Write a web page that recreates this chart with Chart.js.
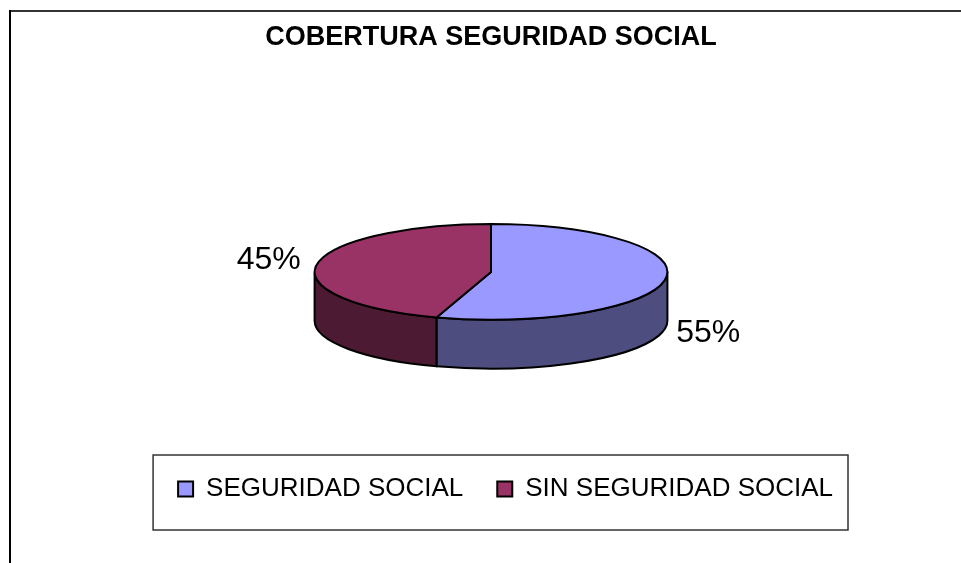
<!DOCTYPE html>
<html>
<head>
<meta charset="utf-8">
<title>Cobertura Seguridad Social</title>
<script src="https://cdn.jsdelivr.net/npm/chart.js@4.4.1/dist/chart.umd.min.js"></script>
<style>
    html, body { margin: 0; padding: 0; background: #fff; }
    #wrap { width: 961px; height: 563px; }
</style>
</head>
<body>
<div id="wrap"><canvas id="coberturaChart"></canvas></div>
<script>
// Datos
const categories = ["SEGURIDAD SOCIAL", "SIN SEGURIDAD SOCIAL"];
const values = [55, 45];

// Estilo
const topColors = ["#9999FF", "#993366"];
const sideColors = ["#4D4D80", "#4D1A33"];
const SHAPE = { sx: 1.22, sy: 0.331, depth: 0.338 }; // relativo al radio de Chart.js

const pie3d = {
    id: "pie3d",
    beforeDraw(chart) {
        // Marco del grafico (solo arriba e izquierda, como en la imagen)
        const ctx = chart.ctx;
        ctx.save();
        ctx.fillStyle = "#fff";
        ctx.fillRect(0, 0, chart.width, chart.height);
        ctx.lineWidth = 2;
        ctx.strokeStyle = "#333";
        ctx.beginPath();
        ctx.moveTo(10, 11);
        ctx.lineTo(chart.width, 11);
        ctx.stroke();
        ctx.strokeStyle = "#000";
        ctx.beginPath();
        ctx.moveTo(10, 10);
        ctx.lineTo(10, chart.height);
        ctx.stroke();
        ctx.restore();
    },
    beforeDatasetsDraw(chart) {
        const ctx = chart.ctx;
        const arcs = chart.getDatasetMeta(0).data;
        const r = arcs[0].outerRadius;
        const rx = r * SHAPE.sx;
        const ry = r * SHAPE.sy;
        const depth = r * SHAPE.depth;
        const cx = arcs[0].x;
        const cy = arcs[0].y - depth / 2;

        ctx.save();
        ctx.lineWidth = 2;
        ctx.strokeStyle = "#000";
        ctx.lineJoin = "round";

        // Paredes laterales (mitad frontal visible)
        arcs.forEach((arc, i) => {
            [[0, Math.PI], [2 * Math.PI, 3 * Math.PI]].forEach(([lo, hi]) => {
                const s = Math.max(arc.startAngle, lo);
                const e = Math.min(arc.endAngle, hi);
                if (e <= s) return;
                ctx.beginPath();
                ctx.ellipse(cx, cy, rx, ry, 0, s, e);
                ctx.ellipse(cx, cy + depth, rx, ry, 0, e, s, true);
                ctx.closePath();
                ctx.fillStyle = sideColors[i];
                ctx.fill();
                ctx.stroke();
            });
        });

        // Cara superior
        arcs.forEach((arc) => {
            ctx.beginPath();
            ctx.moveTo(cx, cy);
            ctx.ellipse(cx, cy, rx, ry, 0, arc.startAngle, arc.endAngle);
            ctx.closePath();
            ctx.fillStyle = arc.options.backgroundColor;
            ctx.fill();
            ctx.stroke();
        });

        // Porcentajes
        const total = values.reduce((a, b) => a + b, 0);
        ctx.fillStyle = "#000";
        ctx.font = "32px 'Liberation Sans', Arial, sans-serif";
        ctx.textBaseline = "middle";
        arcs.forEach((arc, i) => {
            const a = (arc.startAngle + arc.endAngle) / 2;
            const ex = cx + rx * Math.cos(a);
            let ey = cy + ry * Math.sin(a);
            if (Math.sin(a) > 0) ey += depth;
            const txt = Math.round(values[i] / total * 100) + "%";
            if (Math.cos(a) >= 0) {
                ctx.textAlign = "left";
                ctx.fillText(txt, ex + 11, ey + Math.sin(a) * 30);
            } else {
                ctx.textAlign = "right";
                ctx.fillText(txt, ex - 16, ey + Math.sin(a) * 30);
            }
        });
        ctx.restore();
        return false;
    },
    afterDraw(chart) {
        // Recuadro de la leyenda
        const boxes = chart.legend.legendHitBoxes;
        if (!boxes || !boxes.length) return;
        const left = Math.min(...boxes.map((b) => b.left));
        const right = Math.max(...boxes.map((b) => b.left + b.width));
        const mid = boxes[0].top + boxes[0].height / 2;
        const ctx = chart.ctx;
        ctx.save();
        ctx.strokeStyle = "#333";
        ctx.lineWidth = 1.5;
        ctx.strokeRect(left - 25, mid - 34, right - left + 40, 75);
        ctx.restore();
    }
};

Chart.defaults.color = "#000";
Chart.defaults.font.family = "'Liberation Sans', Arial, sans-serif";

new Chart(document.getElementById("coberturaChart"), {
    type: "pie",
    data: {
        labels: categories,
        datasets: [
            {
                data: values,
                backgroundColor: topColors,
                borderColor: "#000",
                borderWidth: 2,
            },
        ],
    },
    options: {
        responsive: true,
        maintainAspectRatio: false,
        animation: false,
        events: [],
        layout: {
            padding: { left: 115, right: 94, top: 0, bottom: 51 },
        },
        plugins: {
            title: {
                display: true,
                text: "COBERTURA SEGURIDAD SOCIAL",
                font: { size: 27, weight: "bold" },
                padding: { top: 21, bottom: 97.4 },
            },
            legend: {
                position: "bottom",
                align: "end",
                labels: {
                    boxWidth: 15,
                    boxHeight: 15,
                    padding: 34,
                    font: { size: 26 },
                },
            },
            tooltip: { enabled: false },
        },
    },
    plugins: [pie3d],
});
</script>
</body>
</html>
